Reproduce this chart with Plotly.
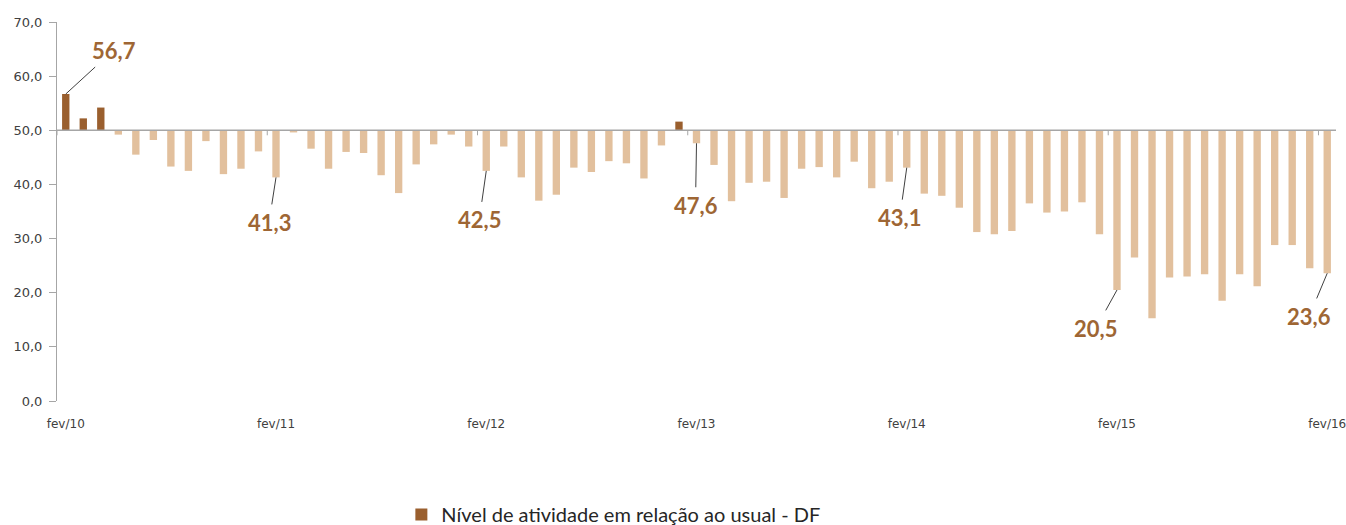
import plotly.graph_objects as go

years = ["10", "11", "12", "13", "14", "15", "16"]
values = [
    56.7, 52.2, 54.2, 49.2, 45.5, 48.2, 43.3, 42.5, 48.0, 41.9, 42.9, 46.1,
    41.3, 49.6, 46.6, 42.9, 46.0, 45.8, 41.7, 38.4, 43.7, 47.4, 49.2, 47.0,
    42.5, 47.0, 41.3, 37.0, 38.1, 43.1, 42.3, 44.3, 43.9, 41.1, 47.2, 51.6,
    47.6, 43.6, 36.9, 40.3, 40.5, 37.5, 42.9, 43.2, 41.3, 44.2, 39.3, 40.5,
    43.1, 38.3, 37.9, 35.7, 31.2, 30.8, 31.4, 36.5, 34.8, 35.0, 36.7, 30.8,
    20.5, 26.5, 15.3, 22.8, 23.0, 23.4, 18.5, 23.4, 21.2, 28.8, 28.8, 24.5,
    23.6,
]
labeled_idx = [0, 12, 24, 36, 48, 60, 72]
label_offsets = [(48, -44), (-7, 45), (-7, 49), (-1, 62), (-7, 50), (-21, 38), (-18, 43)]
tick_idx = [0, 12, 24, 36, 48, 60, 72]
tick_text = ["fev/" + y for y in years]
baseline = 50.0
series_name = "Nível de atividade em relação ao usual - DF"

DARK = "#9A5F2E"
LIGHT = "#E2C09D"
LABEL = "#9E6634"
AXIS = "#A6A6A6"

x = list(range(len(values)))
colors = [DARK if v >= baseline else LIGHT for v in values]

fig = go.Figure()
fig.add_trace(go.Bar(
    x=x, y=[v - baseline for v in values], base=baseline,
    marker=dict(color=colors, line=dict(width=0)),
    width=0.42, name=series_name, showlegend=True,
))

# baseline line (category axis crossing at 50)
fig.add_shape(type="line", xref="x", yref="y", x0=-0.5, x1=len(values) - 0.5,
              y0=baseline, y1=baseline, line=dict(color=AXIS, width=1.5), layer="above")
# category tick marks between groups of 12
for t in tick_idx:
    fig.add_shape(type="line", xref="x", yref="y", ysizemode="pixel", yanchor=baseline,
                  x0=t - 0.5, x1=t - 0.5, y0=0, y1=-5,
                  line=dict(color=AXIS, width=1), layer="above")

for i, (ax, ay) in zip(labeled_idx, label_offsets):
    fig.add_annotation(
        x=i, y=values[i], xref="x", yref="y",
        text=f"{values[i]:.1f}".replace(".", ","),
        showarrow=True, arrowhead=0, arrowwidth=1, arrowcolor="#404040",
        ax=ax, ay=ay, startstandoff=3,
        font=dict(family="Lato", size=22, color=LABEL, weight="bold"),
    )

fig.update_layout(
    width=1346, height=525,
    margin=dict(l=57, r=10, t=22, b=124),
    plot_bgcolor="white", paper_bgcolor="white",
    separators=",.",
    bargap=0.5,
    showlegend=True,
    legend=dict(orientation="h", x=0.435, xanchor="center", xref="paper",
                y=0.02, yanchor="middle", yref="container",
                font=dict(family="Lato", size=20, color="#262626")),
    xaxis=dict(range=[-0.5, len(values) - 0.5], tickvals=tick_idx, ticktext=tick_text,
               showgrid=False, zeroline=False, showline=False, ticks="",
               ticklabelstandoff=14, automargin=False, ticklabeloverflow="allow",
               tickfont=dict(family="DejaVu Sans", size=12, color="#404040")),
    yaxis=dict(range=[0, 70], dtick=10, tickformat=".1f", showgrid=False, zeroline=False,
               showline=True, linecolor=AXIS, linewidth=1, ticks="outside", ticklen=7,
               tickcolor=AXIS, ticklabelstandoff=4, automargin=False,
               tickfont=dict(family="DejaVu Sans", size=13, color="#404040")),
)

fig.write_html("out.html", config={"displayModeBar": False},
               post_script="document.body.style.margin='0';")
